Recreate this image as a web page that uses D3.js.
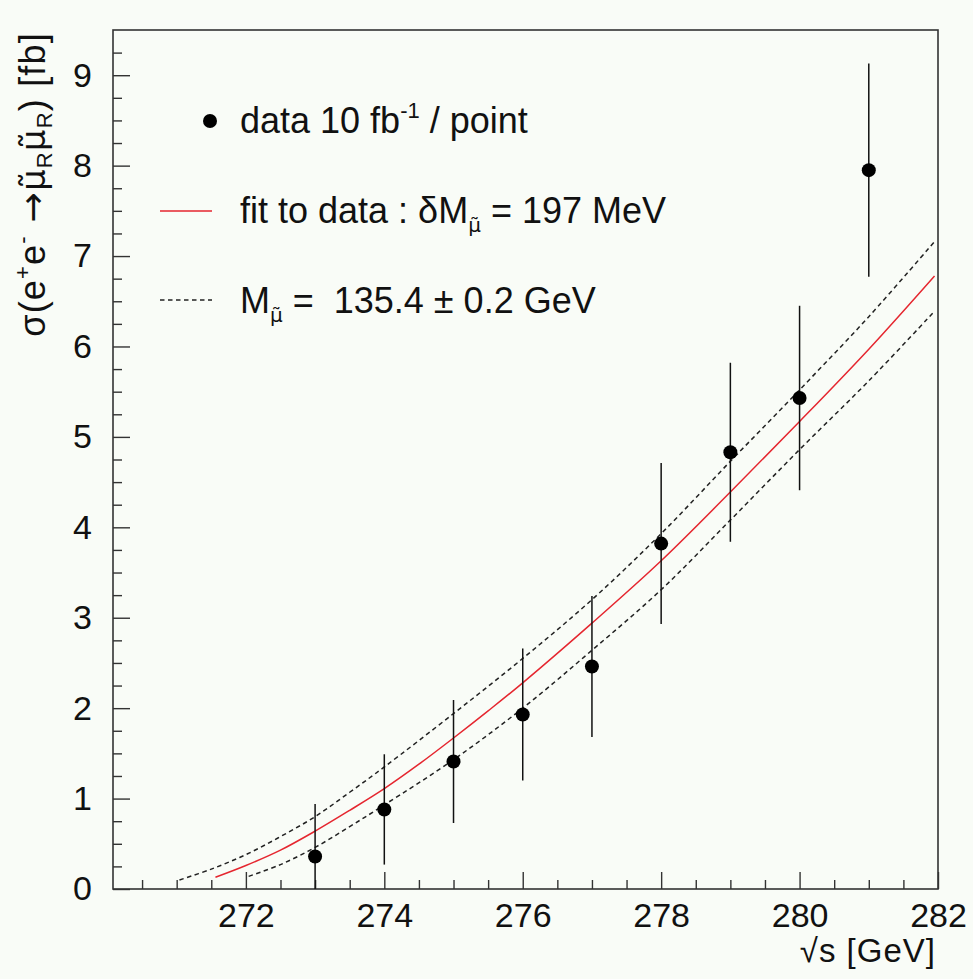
<!DOCTYPE html>
<html><head><meta charset="utf-8">
<script src="https://cdn.jsdelivr.net/npm/d3@7"></script>
<style>
html,body{margin:0;padding:0;background:#f9fcf7;}
svg{display:block;font-family:"Liberation Sans",Arial,Helvetica,sans-serif;}
text{white-space:pre;}
</style></head><body>
<svg id="chart" width="973" height="979"></svg>
<script>
// Measured cross section at each scan point (10 fb^-1 per point)
const energies = [273, 274, 275, 276, 277, 278, 279, 280, 281];
const sigma    = [0.36, 0.88, 1.41, 1.93, 2.46, 3.82, 4.83, 5.43, 7.95];
const sigmaErr = [0.58, 0.61, 0.68, 0.73, 0.78, 0.89, 0.99, 1.02, 1.18];

// Fitted threshold curve
const fitE     = [271.56, 272, 272.5, 273, 273.5, 274, 274.5, 275, 275.5, 276, 277, 278, 279, 280, 281, 281.95];
const fitSigma = [0.13, 0.26, 0.43, 0.64, 0.87, 1.11, 1.38, 1.67, 1.97, 2.28, 2.94, 3.63, 4.39, 5.17, 5.97, 6.78];

// Curves for M - 0.2 GeV (upper) and M + 0.2 GeV (lower)
const upperE     = [271.04, 271.5, 272, 272.5, 273, 273.5, 274, 275, 276, 277, 278, 279, 280, 281, 281.95];
const upperSigma = [0.10, 0.22, 0.38, 0.58, 0.80, 1.07, 1.35, 1.94, 2.55, 3.20, 3.93, 4.73, 5.52, 6.33, 7.16];
const lowerE     = [272.04, 272.5, 273, 273.5, 274, 275, 276, 277, 278, 279, 280, 281, 281.95];
const lowerSigma = [0.14, 0.27, 0.46, 0.69, 0.93, 1.43, 2.00, 2.64, 3.31, 4.08, 4.86, 5.62, 6.39];

const xMajorTicks = [272, 274, 276, 278, 280, 282];
const xTickLabels = ["272", "274", "276", "278", "280", "282"];
const yMajorTicks = [0, 1, 2, 3, 4, 5, 6, 7, 8, 9];
const yTickLabels = ["0", "1", "2", "3", "4", "5", "6", "7", "8", "9"];

const svg = d3.select("#chart");
const frame = {left: 113, right: 938, top: 30, bottom: 889};
const axisColor = "#333";
const fontSize = 34;
const legendSize = 36;

const x = d3.scaleLinear().domain([270.08, 282]).range([frame.left, frame.right]);
const y = d3.scaleLinear().domain([0, 9.5]).range([frame.bottom, frame.top]);

svg.append("defs").append("clipPath").attr("id", "plotArea")
  .append("rect")
  .attr("x", frame.left).attr("y", frame.top)
  .attr("width", frame.right - frame.left).attr("height", frame.bottom - frame.top);

// Minor ticks
const xMinor = d3.range(270.5, 282, 0.5).filter(v => !xMajorTicks.includes(v));
const yMinor = d3.range(0.25, 9.5, 0.25).filter(v => !yMajorTicks.includes(v));

function styleAxis(g) {
  g.select(".domain").remove();
  g.selectAll(".tick line").attr("stroke", axisColor).attr("stroke-width", 1.4);
  g.selectAll("text").attr("fill", "#111").attr("font-size", fontSize)
    .attr("font-family", '"Liberation Sans", Arial, sans-serif');
}

svg.append("g").attr("transform", `translate(0,${frame.bottom})`)
  .call(d3.axisBottom(x).tickValues(xMinor).tickSize(-9).tickSizeOuter(0).tickFormat(""))
  .call(styleAxis);
svg.append("g").attr("transform", `translate(0,${frame.bottom})`)
  .call(d3.axisBottom(x).tickValues(xMajorTicks).tickSize(-17).tickSizeOuter(0)
    .tickPadding(14).tickFormat((d, i) => xTickLabels[i]))
  .call(styleAxis);

svg.append("g").attr("transform", `translate(${frame.left},0)`)
  .call(d3.axisLeft(y).tickValues(yMinor).tickSize(-9).tickSizeOuter(0).tickFormat(""))
  .call(styleAxis);
svg.append("g").attr("transform", `translate(${frame.left},0)`)
  .call(d3.axisLeft(y).tickValues(yMajorTicks).tickSize(-17).tickSizeOuter(0)
    .tickPadding(21).tickFormat((d, i) => yTickLabels[i]))
  .call(styleAxis);

// Frame
svg.append("rect")
  .attr("x", frame.left).attr("y", frame.top)
  .attr("width", frame.right - frame.left).attr("height", frame.bottom - frame.top)
  .attr("fill", "none").attr("stroke", axisColor).attr("stroke-width", 1.6);

const plot = svg.append("g").attr("clip-path", "url(#plotArea)");

const line = d3.line().x(d => x(d[0])).y(d => y(d[1])).curve(d3.curveCatmullRom.alpha(0.5));

plot.append("path").datum(d3.zip(upperE, upperSigma)).attr("d", line)
  .attr("fill", "none").attr("stroke", "#222").attr("stroke-width", 1.5).attr("stroke-dasharray", "4.5,3.5");
plot.append("path").datum(d3.zip(lowerE, lowerSigma)).attr("d", line)
  .attr("fill", "none").attr("stroke", "#222").attr("stroke-width", 1.5).attr("stroke-dasharray", "4.5,3.5");
plot.append("path").datum(d3.zip(fitE, fitSigma)).attr("d", line)
  .attr("fill", "none").attr("stroke", "#e5262f").attr("stroke-width", 1.5);

// Data points with error bars
const pts = energies.map((e, i) => ({e, s: sigma[i], err: sigmaErr[i]}));
plot.selectAll("line.err").data(pts).join("line").attr("class", "err")
  .attr("x1", d => x(d.e)).attr("x2", d => x(d.e))
  .attr("y1", d => y(d.s - d.err)).attr("y2", d => y(d.s + d.err))
  .attr("stroke", "#111").attr("stroke-width", 1.5);
plot.selectAll("circle.pt").data(pts).join("circle").attr("class", "pt")
  .attr("cx", d => x(d.e)).attr("cy", d => y(d.s)).attr("r", 7).attr("fill", "#000");

// Smuon symbol: mu with combining tilde, set in a font with mark positioning
const SMUON = "\u03BC\u0303";
function smuon(textSel, size, shift) {
  return textSel.append("tspan").attr("font-family", '"DejaVu Sans", sans-serif')
    .attr("font-size", size).attr("dy", shift).text(SMUON);
}

// Legend
const leg = svg.append("g").attr("font-size", legendSize).attr("fill", "#111");
leg.append("circle").attr("cx", 210).attr("cy", 121).attr("r", 7).attr("fill", "#000");
const t1 = leg.append("text").attr("x", 240).attr("y", 133);
t1.append("tspan").text("data 10 fb");
t1.append("tspan").attr("font-size", 22).attr("dy", -15).text("-1");
t1.append("tspan").attr("dy", 15).text(" / point");

leg.append("line").attr("x1", 160).attr("x2", 212).attr("y1", 211).attr("y2", 211)
  .attr("stroke", "#e5262f").attr("stroke-width", 1.5);
const t2 = leg.append("text").attr("x", 240).attr("y", 223);
t2.append("tspan").text("fit to data : \u03B4M");
smuon(t2, 20, 9);
t2.append("tspan").attr("dy", -9).text(" = 197 MeV");

leg.append("line").attr("x1", 160).attr("x2", 212).attr("y1", 300).attr("y2", 300)
  .attr("stroke", "#222").attr("stroke-width", 1.5).attr("stroke-dasharray", "4.5,3.5");
const t3 = leg.append("text").attr("x", 240).attr("y", 313);
t3.append("tspan").text("M");
smuon(t3, 20, 9);
t3.append("tspan").attr("dy", -9).text(" =  135.4 \u00B1 0.2 GeV");

// Axis titles
svg.append("text").attr("x", 936).attr("y", 962).attr("text-anchor", "end")
  .attr("font-size", 33).attr("letter-spacing", 1).attr("fill", "#111").text("\u221As [GeV]");

const tsz = 36;
const yt = svg.append("text").attr("transform", "translate(45,32) rotate(-90)")
  .attr("text-anchor", "end").attr("font-size", tsz).attr("letter-spacing", 1.2).attr("fill", "#111");
yt.append("tspan").text("\u03C3(e");
yt.append("tspan").attr("font-size", 22).attr("dy", -15).text("+");
yt.append("tspan").attr("dy", 15).text("e");
yt.append("tspan").attr("font-size", 22).attr("dy", -15).text("-");
yt.append("tspan").attr("dy", 15).attr("font-family", '"DejaVu Sans", sans-serif').text(" \u2192");
smuon(yt, tsz - 2, 0);
yt.append("tspan").attr("font-size", 22).attr("dy", 7).text("R");
smuon(yt, tsz - 2, -7);
yt.append("tspan").attr("font-size", 22).attr("dy", 7).text("R");
yt.append("tspan").attr("dy", -7).text(") [fb]");
</script>
</body></html>
